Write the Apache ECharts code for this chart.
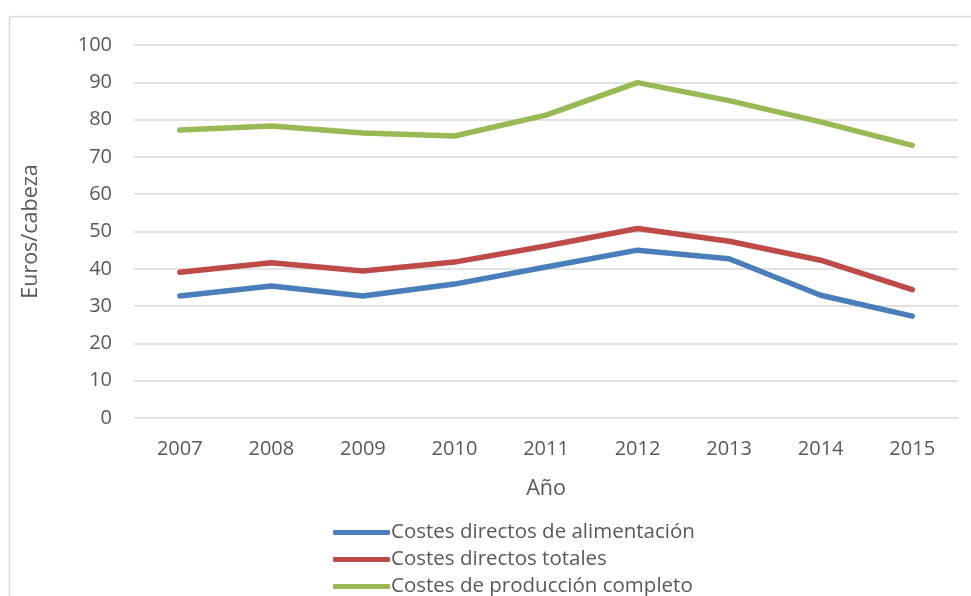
<!DOCTYPE html>
<html>
<head>
<meta charset="utf-8">
<script src="https://cdn.jsdelivr.net/npm/echarts@6/dist/echarts.min.js"></script>
<style>
  html, body { margin: 0; padding: 0; background: #fff; }
  #chart { width: 971px; height: 596px; }
</style>
</head>
<body>
<div id="chart"></div>
<script>
var years = ['2007', '2008', '2009', '2010', '2011', '2012', '2013', '2014', '2015'];
var alimentacion = [32.7, 35.4, 32.7, 35.9, 40.5, 45.0, 42.7, 32.9, 27.3];
var totales = [39.1, 41.6, 39.4, 41.8, 46.1, 50.8, 47.4, 42.3, 34.4];
var completo = [77.2, 78.3, 76.4, 75.6, 81.2, 89.9, 85.1, 79.4, 73.1];

var font = 'Open Sans';
var chart = echarts.init(document.getElementById('chart'));

function serie(name, data, color) {
    return {
        name: name,
        type: 'line',
        data: data,
        symbol: 'none',
        color: color,
        lineStyle: { width: 5.5, color: color, cap: 'round', join: 'round' }
    };
}

chart.setOption({
    animation: false,
    textStyle: { fontFamily: font },
    graphic: [{
        type: 'rect',
        shape: { x: 9.5, y: 16.5, width: 980, height: 600 },
        style: { fill: null, stroke: '#d9d9d9', lineWidth: 1.5 }
    }],
    grid: { left: 134, right: 13, top: 45, bottom: 178 },
    legend: {
        orient: 'vertical',
        left: 328,
        top: 514,
        height: 200,
        itemWidth: 57,
        itemHeight: 5,
        itemGap: 0,
        icon: 'roundRect',
        textStyle: { fontFamily: font, fontSize: 20.5, lineHeight: 27, color: '#595959', padding: [0, 0, 0, -4] },
        data: ['Costes directos de alimentación', 'Costes directos totales', 'Costes de producción completo']
    },
    xAxis: {
        type: 'category',
        data: years,
        name: 'Año',
        nameLocation: 'middle',
        nameGap: 60,
        nameTextStyle: { fontSize: 21.5, color: '#595959' },
        axisLine: { show: false },
        axisTick: { show: false },
        axisLabel: { fontSize: 20, color: '#595959', margin: 21 }
    },
    yAxis: {
        type: 'value',
        min: 0,
        max: 100,
        interval: 10,
        name: 'Euros/cabeza',
        nameLocation: 'middle',
        nameGap: 92,
        nameTextStyle: { fontSize: 21.5, color: '#595959' },
        axisLabel: { fontSize: 20, color: '#595959', margin: 22 },
        splitLine: { lineStyle: { color: '#d9d9d9', width: 1.5 } }
    },
    series: [
        serie('Costes directos de alimentación', alimentacion, '#4a7ebb'),
        serie('Costes directos totales', totales, '#be4b48'),
        serie('Costes de producción completo', completo, '#98b954')
    ]
});
</script>
</body>
</html>
